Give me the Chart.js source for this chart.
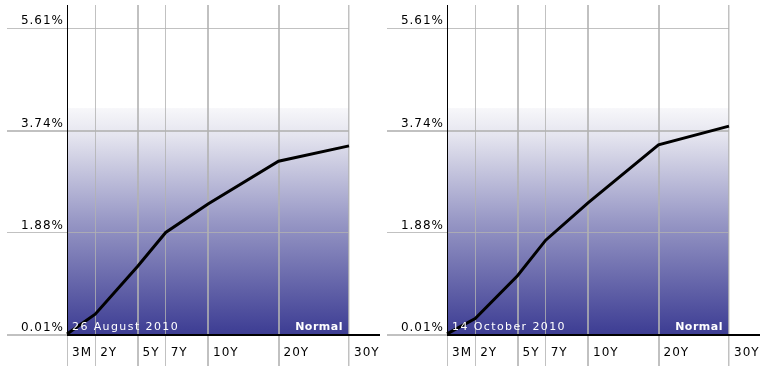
<!DOCTYPE html>
<html>
<head>
<meta charset="utf-8">
<script src="https://cdn.jsdelivr.net/npm/chart.js@4"></script>
<style>
  html, body { margin: 0; padding: 0; background: #fff; }
  #wrap { position: relative; width: 768px; height: 380px; overflow: hidden; }
  .cv { position: absolute; top: 0; }
</style>
</head>
<body>
<div id="wrap">
  <canvas id="c1" class="cv" width="380" height="380" style="left:0px"></canvas>
  <canvas id="c2" class="cv" width="380" height="380" style="left:380px"></canvas>
</div>
<script>
// ---- data ----
const maturities = [0.25, 2, 5, 7, 10, 20, 30];          // years
const tickLabels = ['3M', '2Y', '5Y', '7Y', '10Y', '20Y', '30Y'];
const yieldsAug = [0.03, 0.39, 1.26, 1.88, 2.40, 3.18, 3.46]; // %
const yieldsOct = [0.03, 0.31, 1.09, 1.74, 2.42, 3.48, 3.82]; // %
const yTicks = [0.01, 1.88, 3.74, 5.61];
const yTickLabels = ['0.01%', '1.88%', '3.74%', '5.61%'];
const dateLabels = ['26 August 2010', '14 October 2010'];
const curveShape = 'Normal';

// axis mapping of the source chart: 3M..2Y compressed, 10Y+ at half scale
function axisPos(t) {
  if (t <= 2) return (t - 0.25) / 1.75 * 2;
  if (t <= 10) return t;
  return 10 + (t - 10) / 2;
}

Chart.defaults.font.family = '"DejaVu Sans", Verdana, sans-serif';
Chart.defaults.font.size = 12;
Chart.defaults.color = '#000';

const bgPlugin = {
  id: 'bg',
  beforeDraw(chart) {
    const ctx = chart.ctx;
    const a = chart.chartArea;
    const ys = chart.scales.y;
    const top = ys.getPixelForValue(4.15);
    const g = ctx.createLinearGradient(0, top, 0, a.bottom);
    g.addColorStop(0, 'rgba(247,247,250,1)');
    g.addColorStop(0.12, '#e5e5ef');
    g.addColorStop(0.5, '#9797c5');
    g.addColorStop(1, '#3c3c93');
    ctx.save();
    ctx.fillStyle = g;
    ctx.fillRect(a.left, top, a.right - a.left, a.bottom - top);
    ctx.restore();
    ctx.letterSpacing = '1px';
    ctx.font = '10px serif';
  },
  afterDraw(chart, args, opts) {
    const ctx = chart.ctx;
    const a = chart.chartArea;
    const ys = chart.scales.y;
    ctx.save();
    // extended x axis line
    ctx.strokeStyle = '#000';
    ctx.lineWidth = 2;
    ctx.beginPath();
    ctx.moveTo(a.left, a.bottom);
    ctx.lineTo(chart.width, a.bottom);
    ctx.stroke();
    // y tick labels, sitting above their grid lines
    ctx.fillStyle = '#000';
    ctx.letterSpacing = '1px';
    ctx.font = '12px "DejaVu Sans"';
    ctx.textAlign = 'right';
    ctx.textBaseline = 'middle';
    yTicks.forEach((v, i) => {
      ctx.fillText(yTickLabels[i], ys.right - 3, ys.getPixelForValue(v) - 7);
    });
    // texts inside plot
    ctx.fillStyle = '#fff';
    ctx.textBaseline = 'alphabetic';
    ctx.letterSpacing = '1.4px';
    ctx.font = '11px "DejaVu Sans"';
    ctx.textAlign = 'left';
    ctx.fillText(opts.date, a.left + 5, a.bottom - 5);
    ctx.letterSpacing = '0.5px';
    ctx.font = 'bold 11px "DejaVu Sans"';
    ctx.textAlign = 'right';
    ctx.fillText(opts.shape, a.right - 6, a.bottom - 5);
    ctx.restore();
  }
};

function makeChart(id, values, date) {
  const pts = maturities.map((m, i) => ({ x: axisPos(m), y: values[i] }));
  return new Chart(document.getElementById(id), {
    type: 'line',
    data: {
      datasets: [{
        data: pts,
        borderColor: '#000',
        borderWidth: 3,
        pointRadius: 0,
        tension: 0,
        fill: false,
        clip: false
      }]
    },
    plugins: [bgPlugin],
    options: {
      responsive: false,
      animation: false,
      events: [],
      layout: { padding: { top: 5, right: 31, left: 0, bottom: 0 } },
      plugins: {
        legend: { display: false },
        tooltip: { enabled: false },
        bg: { date: date, shape: curveShape }
      },
      scales: {
        x: {
          type: 'linear',
          min: axisPos(maturities[0]),
          max: axisPos(maturities[maturities.length - 1]),
          afterBuildTicks(scale) {
            scale.ticks = maturities.map(m => ({ value: axisPos(m) }));
          },
          afterFit(scale) { scale.height = 45; },
          grid: {
            color: 'rgba(178,178,178,0.8)',
            lineWidth: [1, 1, 2, 1, 2, 2, 1.5],
            drawTicks: true,
            tickLength: 31
          },
          border: { display: false },
          ticks: {
            autoSkip: false,
            maxRotation: 0,
            align: 'start',
            labelOffset: 5,
            padding: -20,
            color: '#000',
            font: { size: 12 },
            callback: (v, i) => tickLabels[i]
          }
        },
        y: {
          min: 0.01,
          max: 6.03,
          afterBuildTicks(scale) {
            scale.ticks = yTicks.map(v => ({ value: v }));
          },
          afterFit(scale) { scale.width = 67; },
          grid: {
            color: 'rgba(178,178,178,0.8)',
            lineWidth: [2, 1, 2, 1],
            drawTicks: true,
            tickLength: 60
          },
          border: { display: true, color: '#000', width: 1 },
          ticks: {
            display: false,
            autoSkip: false
          }
        }
      }
    }
  });
}

makeChart('c1', yieldsAug, dateLabels[0]);
makeChart('c2', yieldsOct, dateLabels[1]);
</script>
</body>
</html>
